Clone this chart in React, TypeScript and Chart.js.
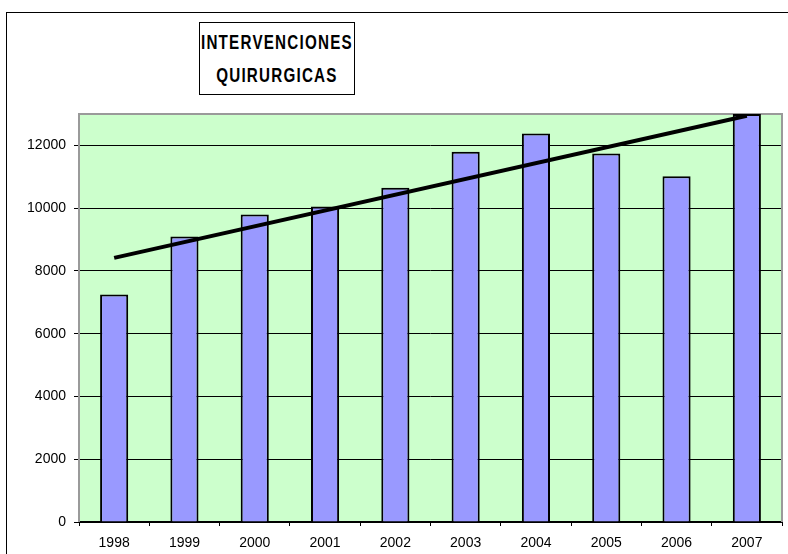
import React, { useEffect, useRef } from 'react';
import { Chart, registerables } from 'chart.js';

Chart.register(...registerables);

const years = ['1998', '1999', '2000', '2001', '2002', '2003', '2004', '2005', '2006', '2007'];
const intervenciones = [7250, 9100, 9800, 10050, 10650, 11800, 12380, 11740, 11020, 13000];
const trendStart = 8415;
const trendEnd = 12945;
const trendValues = [trendStart, null, null, null, null, null, null, null, null, trendEnd];
const yTickValues = [0, 2000, 4000, 6000, 8000, 10000, 12000];
const yMax = 13000;
const titleLines = ['INTERVENCIONES', 'QUIRURGICAS'];

const plotAreaPlugin = {
  id: 'plotArea',
  beforeDraw(chart: any) {
    const { ctx, chartArea } = chart;
    const { left, top, right, bottom } = chartArea;
    ctx.save();
    ctx.fillStyle = '#CCFFCC';
    ctx.fillRect(left, top, right - left, bottom - top);
    ctx.restore();
  },
  beforeDatasetsDraw(chart: any) {
    const { ctx, chartArea } = chart;
    const { left, top, right, bottom } = chartArea;
    ctx.save();
    ctx.strokeStyle = '#9a9a9a';
    ctx.lineWidth = 2;
    ctx.beginPath();
    ctx.moveTo(left, bottom);
    ctx.lineTo(left, top);
    ctx.lineTo(right, top);
    ctx.lineTo(right, bottom);
    ctx.stroke();
    ctx.restore();
  },
};

const tickFont = { family: '"Liberation Sans", Arial, sans-serif', size: 14 };

export default function App() {
  const canvasRef = useRef<HTMLCanvasElement | null>(null);

  useEffect(() => {
    const canvas = canvasRef.current;
    if (!canvas) return;
    const chart = new Chart(canvas, {
      type: 'bar',
      data: {
        labels: years,
        datasets: [
          {
            type: 'line',
            label: 'Tendencia',
            data: trendValues as any,
            borderColor: '#000000',
            borderWidth: 4,
            pointRadius: 0,
            spanGaps: true,
            order: 0,
            fill: false,
          } as any,
          {
            type: 'bar',
            label: 'Intervenciones',
            data: intervenciones,
            backgroundColor: '#9999FF',
            borderColor: '#000000',
            borderWidth: 2,
            borderSkipped: 'start',
            categoryPercentage: 1,
            barPercentage: 0.4,
            order: 1,
          } as any,
        ],
      },
      options: {
        responsive: false,
        animation: false,
        devicePixelRatio: 1,
        layout: { padding: { top: 114, right: 6, left: 0, bottom: 0 } },
        plugins: {
          legend: { display: false },
          tooltip: { enabled: false },
          title: { display: false },
        },
        scales: {
          x: {
            grid: {
              display: true,
              drawOnChartArea: false,
              drawTicks: true,
              tickLength: 4,
              color: '#000000',
              tickColor: '#000000',
              offset: true,
            },
            border: { display: true, color: '#000000', width: 2 },
            ticks: { font: tickFont, color: '#000000', padding: 9, maxRotation: 0 },
            afterFit: (s: any) => {
              s.height = 32;
            },
          },
          y: {
            min: 0,
            max: yMax,
            grid: {
              color: '#000000',
              lineWidth: 1,
              tickLength: 5,
              tickColor: '#000000',
            },
            border: { display: false },
            ticks: {
              font: tickFont,
              color: '#000000',
              padding: 8,
              callback: (v: any) => String(v),
            },
            afterBuildTicks: (s: any) => {
              s.ticks = yTickValues.map((v) => ({ value: v }));
            },
            afterFit: (s: any) => {
              s.width = 79;
            },
          },
        },
      } as any,
      plugins: [plotAreaPlugin],
    });
    return () => chart.destroy();
  }, []);

  return (
    <div
      style={{
        position: 'fixed',
        left: 0,
        top: 0,
        width: 788,
        height: 554,
        overflow: 'hidden',
        background: '#ffffff',
      }}
    >
      <div
        style={{
          position: 'absolute',
          left: 6,
          top: 12,
          width: 900,
          height: 700,
          borderLeft: '1px solid #000',
          borderTop: '1px solid #000',
        }}
      />
      <canvas
        ref={canvasRef}
        width={788}
        height={554}
        style={{ position: 'absolute', left: 0, top: 0, width: 788, height: 554 }}
      />
      <div
        style={{
          position: 'absolute',
          left: 199,
          top: 22,
          width: 156,
          height: 73,
          boxSizing: 'border-box',
          border: '1px solid #000',
          background: '#fff',
          paddingTop: 3,
          fontFamily: '"Liberation Sans", Arial, sans-serif',
          fontWeight: 'bold',
          fontSize: 20,
          lineHeight: '33px',
          color: '#000',
          whiteSpace: 'nowrap',
        }}
      >
        {titleLines.map((l) => (
          <div key={l} style={{ display: 'flex', justifyContent: 'center', width: '100%' }}>
            <span
              style={{
                display: 'inline-block',
                flexShrink: 0,
                transform: 'scaleX(0.76)',
                transformOrigin: 'center',
                letterSpacing: 1.6,
              }}
            >
              {l}
            </span>
          </div>
        ))}
      </div>
    </div>
  );
}
